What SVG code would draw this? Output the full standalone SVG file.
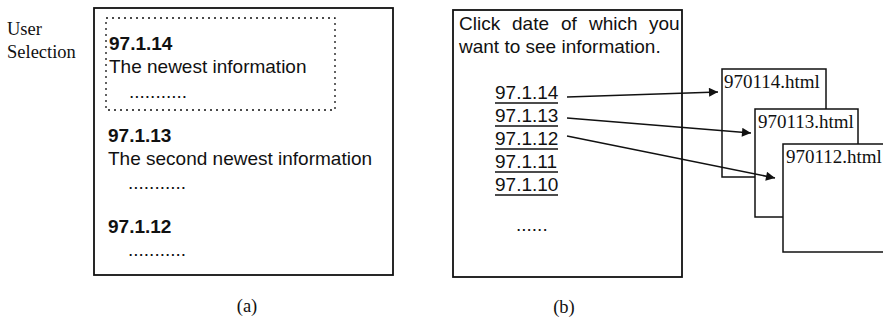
<svg xmlns="http://www.w3.org/2000/svg" width="883" height="326" viewBox="0 0 883 326">
  <defs>
    <marker id="arrow" viewBox="0 0 10 10" refX="10" refY="5" markerWidth="11" markerHeight="9" markerUnits="userSpaceOnUse" orient="auto">
      <path d="M0,0 L10,5 L0,10 Z" fill="#111"/>
    </marker>
  </defs>
  <style>
    .frame { fill: #fff; stroke: #111; stroke-width: 1.8; }
    .page { fill: #fff; stroke: #111; stroke-width: 1.5; }
    .sel { fill: none; stroke: #111; stroke-width: 1.3; stroke-dasharray: 2 4; }
    .sans { font-family: "Liberation Sans", Arial, sans-serif; font-size: 19px; fill: #111; }
    .bold { font-weight: bold; }
    .serif { font-family: "Liberation Serif", "Times New Roman", serif; font-size: 18.5px; fill: #111; }
    .fname { font-size: 19px; }
    .uline { stroke: #111; stroke-width: 1.4; }
    .link { stroke: #111; stroke-width: 1.5; fill: none; }
  </style>

  <rect width="883" height="326" fill="#fff"/>

  <!-- (a) list page -->
  <g id="label-user-selection">
    <text class="serif" x="7" y="35">User</text>
    <text class="serif" x="7" y="58">Selection</text>
  </g>
  <g id="page-a">
    <rect class="frame" x="94" y="8" width="299" height="267"/>
    <rect class="sel" x="106" y="18" width="229" height="92"/>
    <text class="sans bold" x="109" y="50">97.1.14</text>
    <text class="sans" x="109" y="73">The newest information</text>
    <text class="sans" x="129" y="98">...........</text>
    <text class="sans bold" x="108" y="142">97.1.13</text>
    <text class="sans" x="108" y="165">The second newest information</text>
    <text class="sans" x="128" y="189">...........</text>
    <text class="sans bold" x="108" y="233">97.1.12</text>
    <text class="sans" x="128" y="256">...........</text>
  </g>
  <text class="serif" x="247" y="312" text-anchor="middle">(a)</text>

  <!-- (b) index page -->
  <g id="page-b">
    <rect class="frame" x="453" y="10" width="229" height="267"/>
    <text class="sans" y="30"><tspan x="459">Click</tspan><tspan x="512">date</tspan><tspan x="561">of</tspan><tspan x="589">which</tspan><tspan x="649">you</tspan></text>
    <text class="sans" x="459" y="53">want to see information.</text>
    <text class="sans" x="495" y="99">97.1.14</text>
    <line class="uline" x1="495" y1="103" x2="558" y2="103"/>
    <text class="sans" x="495" y="122">97.1.13</text>
    <line class="uline" x1="495" y1="126" x2="558" y2="126"/>
    <text class="sans" x="495" y="145">97.1.12</text>
    <line class="uline" x1="495" y1="149" x2="558" y2="149"/>
    <text class="sans" x="495" y="168">97.1.11</text>
    <line class="uline" x1="495" y1="172" x2="558" y2="172"/>
    <text class="sans" x="495" y="191">97.1.10</text>
    <line class="uline" x1="495" y1="195" x2="558" y2="195"/>
    <text class="sans" x="516" y="231">......</text>
  </g>
  <text class="serif" x="564" y="313" text-anchor="middle">(b)</text>

  <!-- linked pages, stacked back to front -->
  <g id="file-970114">
    <rect class="page" x="722" y="69" width="104" height="108"/>
    <text class="serif fname" x="724" y="88">970114.html</text>
  </g>
  <g id="file-970113">
    <rect class="page" x="755" y="109" width="103" height="108"/>
    <text class="serif fname" x="758" y="128">970113.html</text>
  </g>
  <g id="file-970112">
    <rect class="page" x="783" y="144" width="110" height="108"/>
    <text class="serif fname" x="786" y="163">970112.html</text>
  </g>

  <!-- hyperlinks from dates to files -->
  <g id="connectors">
    <line class="link" x1="567" y1="97" x2="718" y2="92" marker-end="url(#arrow)"/>
    <line class="link" x1="567" y1="118" x2="751" y2="133" marker-end="url(#arrow)"/>
    <line class="link" x1="567" y1="136" x2="775" y2="178" marker-end="url(#arrow)"/>
  </g>
</svg>
